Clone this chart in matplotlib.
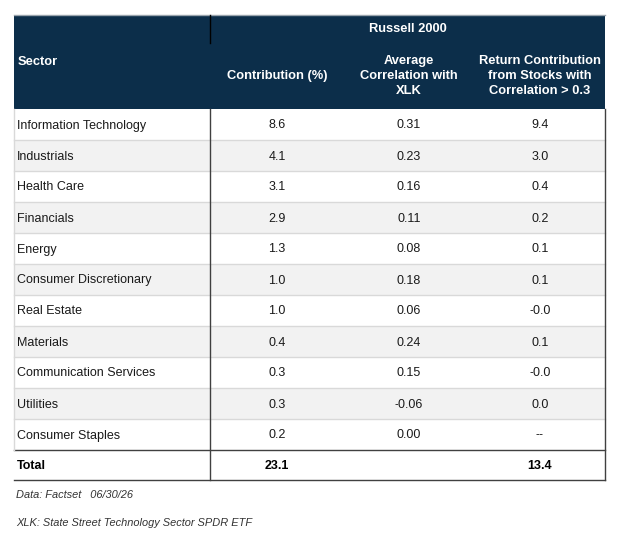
import matplotlib.pyplot as plt
from matplotlib.patches import Rectangle

plt.rcParams['font.family'] = ['Liberation Sans', 'DejaVu Sans']

sectors = ['Information Technology', 'Industrials', 'Health Care', 'Financials',
           'Energy', 'Consumer Discretionary', 'Real Estate', 'Materials',
           'Communication Services', 'Utilities', 'Consumer Staples']
contribution = ['8.6', '4.1', '3.1', '2.9', '1.3', '1.0', '1.0', '0.4', '0.3', '0.3', '0.2']
avg_corr = ['0.31', '0.23', '0.16', '0.11', '0.08', '0.18', '0.06', '0.24', '0.15', '-0.06', '0.00']
ret_contrib = ['9.4', '3.0', '0.4', '0.2', '0.1', '0.1', '-0.0', '0.1', '-0.0', '0.0', '--']
total_row = ['Total', '23.1', '', '13.4']

group_title = 'Russell 2000'
col_headers = ['Contribution (%)', 'Average\nCorrelation with\nXLK',
               'Return Contribution\nfrom Stocks with\nCorrelation > 0.3']
notes = ['Data: Factset   06/30/26', 'XLK: State Street Technology Sector SPDR ETF']

navy = '#0c2e4a'
stripe = '#f2f2f2'
grid = '#d9d9d9'
dark = '#404040'

W, H = 624, 542
fig = plt.figure(figsize=(W / 100, H / 100), dpi=100)
ax = fig.add_axes([0, 0, 1, 1])
ax.set_xlim(0, W)
ax.set_ylim(H, 0)
ax.axis('off')

left, right, split = 14, 605, 210
top, head_bot, row_h = 15, 109, 31
col_x = [277, 409, 540]
hfs = 9.3

# header block
ax.add_patch(Rectangle((left, top), right - left, head_bot - top, color=navy, lw=0))
ax.plot([left, right], [top, top], color='#9aa4ad', lw=1)
ax.plot([split, split], [top, 43], color='black', lw=1)
ax.text((split + right) / 2, 29, group_title, color='white', fontsize=hfs,
        fontweight='bold', ha='center', va='center')
ax.text(18, 62, 'Sector', color='white', fontsize=hfs, fontweight='bold',
        ha='left', va='center')
for x, h in zip(col_x, col_headers):
    ax.text(x, 76, h, color='white', fontsize=hfs, fontweight='bold',
            ha='center', va='center', linespacing=1.38)

# body rows
for i, name in enumerate(sectors):
    y0 = head_bot + i * row_h
    if i % 2 == 1:
        ax.add_patch(Rectangle((left, y0), right - left, row_h, color=stripe, lw=0))
    if i > 0:
        ax.plot([left, right], [y0, y0], color=grid, lw=1)
    yc = y0 + row_h / 2 + 1
    ax.text(17, yc, name, fontsize=9, color='#1a1a1a', ha='left', va='center')
    for x, v in zip(col_x, [contribution[i], avg_corr[i], ret_contrib[i]]):
        ax.text(x, yc, v, fontsize=9, color='#1a1a1a', ha='center', va='center')

# total row
t0 = head_bot + len(sectors) * row_h
t1 = t0 + row_h - 1
ax.plot([left, right], [t0, t0], color=dark, lw=1)
ax.plot([left, right], [t1, t1], color=dark, lw=1)
ax.text(17, (t0 + t1) / 2 + 1, total_row[0], fontsize=9, fontweight='bold',
        color='black', ha='left', va='center')
for x, v in zip(col_x, total_row[1:]):
    ax.text(x, (t0 + t1) / 2 + 1, v, fontsize=9, fontweight='bold',
            color='black', ha='center', va='center')

# vertical borders
ax.plot([split, split], [head_bot, t1], color=dark, lw=1)
ax.plot([right, right], [head_bot, t1], color=dark, lw=1)
ax.plot([left, left], [head_bot, t0], color=grid, lw=1)

# notes
ax.text(16, 495, notes[0], fontsize=7.9, style='italic', color='#333333',
        ha='left', va='center')
ax.text(16, 523, notes[1], fontsize=7.9, style='italic', color='#333333',
        ha='left', va='center')

fig.savefig('out.png', dpi=100)
